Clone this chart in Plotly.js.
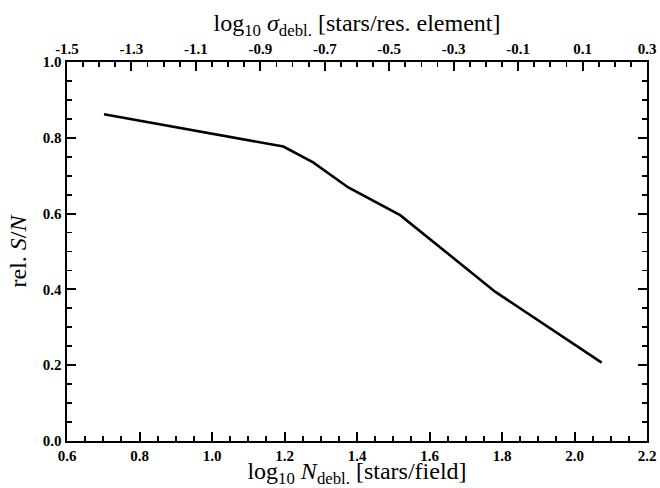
<!DOCTYPE html>
<html>
<head>
<meta charset="utf-8">
<script src="https://cdn.plot.ly/plotly-3.0.1.min.js"></script>
<style>html,body{margin:0;padding:0;background:#fff;}#chart{width:660px;height:488px;}</style>
</head>
<body>
<div id="chart"></div>
<script>
// Data
const logNdebl = [0.702, 1.197, 1.279, 1.376, 1.519, 1.781, 2.075];
const relSN    = [0.862, 0.777, 0.735, 0.669, 0.596, 0.394, 0.207];

// Tick labels
const bottomTickVals = [0.6, 0.8, 1.0, 1.2, 1.4, 1.6, 1.8, 2.0, 2.2];
const bottomTickText = ["0.6", "0.8", "1.0", "1.2", "1.4", "1.6", "1.8", "2.0", "2.2"];
const topTickVals = [-1.5, -1.3, -1.1, -0.9, -0.7, -0.5, -0.3, -0.1, 0.1, 0.3];
const topTickText = ["-1.5", "-1.3", "-1.1", "-0.9", "-0.7", "-0.5", "-0.3", "-0.1", "0.1", "0.3"];
const yTickVals = [0.0, 0.2, 0.4, 0.6, 0.8, 1.0];
const yTickText = ["0.0", "0.2", "0.4", "0.6", "0.8", "1.0"];
const bottomRange = [0.6, 2.2];
const topRange = [-1.5, 0.3];
const yRange = [0, 1.0];

const SERIF = "Liberation Serif";
const tickFont = {family: SERIF, size: 15, color: "#000", weight: 700};
const titleFont = {family: SERIF, size: 24, color: "#000"};

const traces = [
  {x: logNdebl, y: relSN, type: "scatter", mode: "lines",
   line: {color: "#000", width: 2.6}, showlegend: false, hoverinfo: "skip"},
  {x: topRange, y: [null, null], xaxis: "x2", type: "scatter", mode: "lines",
   showlegend: false, hoverinfo: "skip"}
];

const minorTicks = {dtick: 0.05, ticks: "inside", ticklen: 5, tickwidth: 1.8, tickcolor: "#000"};

function axis(extra) {
  return Object.assign({
    showgrid: false, zeroline: false, showline: true, linecolor: "#000", linewidth: 2.4,
    ticks: "inside", ticklen: 9, tickwidth: 2, tickcolor: "#000",
    tickfont: Object.assign({}, tickFont)
  }, extra);
}

const layout = {
  width: 660, height: 488,
  font: {family: SERIF, size: 15, color: "#000"},
  margin: {l: 67, r: 13, t: 62, b: 47},
  paper_bgcolor: "#fff", plot_bgcolor: "#fff",
  xaxis: axis({
    range: bottomRange, tickmode: "array", tickvals: bottomTickVals, ticktext: bottomTickText,
    minor: Object.assign({tick0: 0.6}, minorTicks),
    title: {text: "log<sub>10</sub> <i>N</i><sub>debl.</sub> [stars/field]", font: Object.assign({}, titleFont), standoff: 8}
  }),
  xaxis2: axis({
    overlaying: "x", side: "top", anchor: "y",
    range: topRange, tickmode: "array", tickvals: topTickVals, ticktext: topTickText,
    minor: Object.assign({tick0: -1.5}, minorTicks),
    title: {text: "log<sub>10</sub> <i>σ</i><sub>debl.</sub> [stars/res. element]", font: Object.assign({}, titleFont), standoff: 2}
  }),
  yaxis: axis({
    range: yRange, tickmode: "array", tickvals: yTickVals, ticktext: yTickText, mirror: "ticks",
    minor: Object.assign({tick0: 0}, minorTicks),
    title: {text: "rel. <i>S</i>/<i>N</i>", font: Object.assign({}, titleFont), standoff: 10}
  })
};

Plotly.newPlot("chart", traces, layout, {displayModeBar: false, staticPlot: true});
</script>
</body>
</html>
